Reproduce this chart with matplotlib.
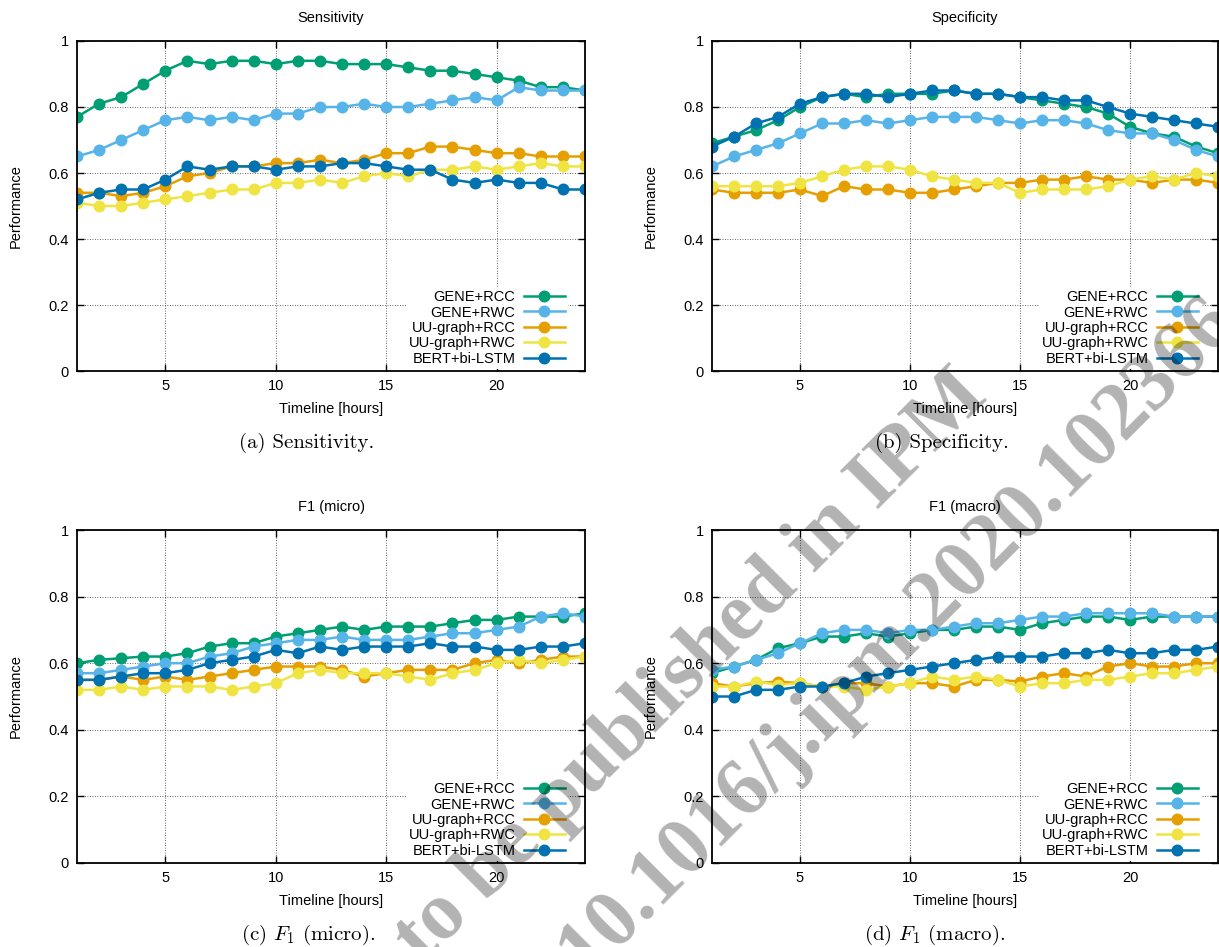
import matplotlib.pyplot as plt

W, H = 1219, 947   # output size in pixels (dpi 100)

hours = list(range(1, 25))
methods = ["GENE+RCC", "GENE+RWC", "UU-graph+RCC", "UU-graph+RWC", "BERT+bi-LSTM"]
colors = ["#009e73", "#56b4e9", "#e69f00", "#f0e442", "#0072b2"]

# (a) sensitivity
sens_gene_rcc = [0.77, 0.81, 0.83, 0.87, 0.91, 0.94, 0.93, 0.94, 0.94, 0.93, 0.94, 0.94,
                 0.93, 0.93, 0.93, 0.92, 0.91, 0.91, 0.90, 0.89, 0.88, 0.86, 0.86, 0.85]
sens_gene_rwc = [0.65, 0.67, 0.70, 0.73, 0.76, 0.77, 0.76, 0.77, 0.76, 0.78, 0.78, 0.80,
                 0.80, 0.81, 0.80, 0.80, 0.81, 0.82, 0.83, 0.82, 0.86, 0.85, 0.85, 0.85]
sens_uu_rcc = [0.54, 0.54, 0.53, 0.54, 0.56, 0.59, 0.60, 0.62, 0.62, 0.63, 0.63, 0.64,
               0.63, 0.64, 0.66, 0.66, 0.68, 0.68, 0.67, 0.66, 0.66, 0.65, 0.65, 0.65]
sens_uu_rwc = [0.51, 0.50, 0.50, 0.51, 0.52, 0.53, 0.54, 0.55, 0.55, 0.57, 0.57, 0.58,
               0.57, 0.59, 0.60, 0.59, 0.61, 0.61, 0.62, 0.61, 0.62, 0.63, 0.62, 0.62]
sens_bert = [0.52, 0.54, 0.55, 0.55, 0.58, 0.62, 0.61, 0.62, 0.62, 0.61, 0.62, 0.62,
             0.63, 0.63, 0.62, 0.61, 0.61, 0.58, 0.57, 0.58, 0.57, 0.57, 0.55, 0.55]

# (b) specificity
spec_gene_rcc = [0.69, 0.71, 0.73, 0.76, 0.80, 0.83, 0.84, 0.83, 0.84, 0.84, 0.84, 0.85,
                 0.84, 0.84, 0.83, 0.82, 0.81, 0.80, 0.78, 0.74, 0.72, 0.71, 0.68, 0.66]
spec_gene_rwc = [0.62, 0.65, 0.67, 0.69, 0.72, 0.75, 0.75, 0.76, 0.75, 0.76, 0.77, 0.77,
                 0.77, 0.76, 0.75, 0.76, 0.76, 0.75, 0.73, 0.72, 0.72, 0.70, 0.67, 0.65]
spec_uu_rcc = [0.55, 0.54, 0.54, 0.54, 0.55, 0.53, 0.56, 0.55, 0.55, 0.54, 0.54, 0.55,
               0.56, 0.57, 0.57, 0.58, 0.58, 0.59, 0.58, 0.58, 0.57, 0.58, 0.58, 0.57]
spec_uu_rwc = [0.56, 0.56, 0.56, 0.56, 0.57, 0.59, 0.61, 0.62, 0.62, 0.61, 0.59, 0.58,
               0.57, 0.57, 0.54, 0.55, 0.55, 0.55, 0.56, 0.58, 0.59, 0.58, 0.60, 0.59]
spec_bert = [0.68, 0.71, 0.75, 0.77, 0.81, 0.83, 0.84, 0.84, 0.83, 0.84, 0.85, 0.85,
             0.84, 0.84, 0.83, 0.83, 0.82, 0.82, 0.80, 0.78, 0.77, 0.76, 0.75, 0.74]

# (c) F1 micro
f1mi_gene_rcc = [0.60, 0.61, 0.615, 0.62, 0.62, 0.63, 0.65, 0.66, 0.66, 0.68, 0.69, 0.70,
                 0.71, 0.70, 0.71, 0.71, 0.71, 0.72, 0.73, 0.73, 0.74, 0.74, 0.74, 0.75]
f1mi_gene_rwc = [0.57, 0.57, 0.58, 0.59, 0.60, 0.60, 0.62, 0.63, 0.65, 0.66, 0.67, 0.67,
                 0.68, 0.67, 0.67, 0.67, 0.68, 0.69, 0.69, 0.70, 0.71, 0.74, 0.75, 0.74]
f1mi_uu_rcc = [0.55, 0.55, 0.56, 0.55, 0.56, 0.55, 0.56, 0.57, 0.58, 0.59, 0.59, 0.59,
               0.58, 0.56, 0.57, 0.58, 0.58, 0.58, 0.60, 0.61, 0.60, 0.61, 0.62, 0.62]
f1mi_uu_rwc = [0.52, 0.52, 0.53, 0.52, 0.53, 0.53, 0.53, 0.52, 0.53, 0.54, 0.57, 0.58,
               0.57, 0.57, 0.57, 0.56, 0.55, 0.57, 0.58, 0.60, 0.61, 0.60, 0.61, 0.62]
f1mi_bert = [0.55, 0.55, 0.56, 0.57, 0.57, 0.58, 0.60, 0.61, 0.62, 0.64, 0.63, 0.65,
             0.64, 0.65, 0.65, 0.65, 0.66, 0.65, 0.65, 0.64, 0.64, 0.65, 0.65, 0.66]

# (d) F1 macro
f1ma_gene_rcc = [0.57, 0.59, 0.61, 0.645, 0.66, 0.68, 0.68, 0.69, 0.68, 0.69, 0.70, 0.70,
                 0.71, 0.71, 0.70, 0.72, 0.73, 0.74, 0.74, 0.73, 0.74, 0.74, 0.74, 0.74]
f1ma_gene_rwc = [0.58, 0.59, 0.61, 0.63, 0.66, 0.69, 0.70, 0.70, 0.69, 0.70, 0.70, 0.71,
                 0.72, 0.72, 0.73, 0.74, 0.74, 0.75, 0.75, 0.75, 0.75, 0.74, 0.74, 0.74]
f1ma_uu_rcc = [0.54, 0.53, 0.54, 0.545, 0.54, 0.53, 0.54, 0.54, 0.53, 0.54, 0.54, 0.53,
               0.55, 0.55, 0.545, 0.56, 0.57, 0.56, 0.59, 0.60, 0.59, 0.59, 0.60, 0.60]
f1ma_uu_rwc = [0.53, 0.53, 0.545, 0.535, 0.54, 0.53, 0.53, 0.52, 0.53, 0.54, 0.56, 0.55,
               0.56, 0.55, 0.53, 0.54, 0.54, 0.55, 0.55, 0.56, 0.57, 0.57, 0.58, 0.59]
f1ma_bert = [0.50, 0.50, 0.52, 0.52, 0.53, 0.53, 0.54, 0.56, 0.57, 0.58, 0.59, 0.60,
             0.61, 0.62, 0.62, 0.62, 0.63, 0.63, 0.64, 0.63, 0.63, 0.64, 0.64, 0.65]

yticks = [0, 0.2, 0.4, 0.6, 0.8, 1]
ytick_labels = ["0", "0.2", "0.4", "0.6", "0.8", "1"]
xticks = [5, 10, 15, 20]


def fig_box(left, top, right, bottom):
    # pixel box (top-left origin) -> figure fraction rect
    return [left / W, 1 - bottom / H, (right - left) / W, (bottom - top) / H]


plt.rcParams['font.family'] = ['Liberation Sans', 'DejaVu Sans']
plt.rcParams['mathtext.fontset'] = 'cm'

fig = plt.figure(figsize=(W / 100, H / 100), dpi=100)

panels = [
    ([sens_gene_rcc, sens_gene_rwc, sens_uu_rcc, sens_uu_rwc, sens_bert],
     "Sensitivity", "(a) Sensitivity.", (77, 41, 585, 371), 307),
    ([spec_gene_rcc, spec_gene_rwc, spec_uu_rcc, spec_uu_rwc, spec_bert],
     "Specificity", "(b) Specificity.", (712, 41, 1218, 371), 942),
    ([f1mi_gene_rcc, f1mi_gene_rwc, f1mi_uu_rcc, f1mi_uu_rwc, f1mi_bert],
     "F1 (micro)", "(c) $F_1$ (micro).", (77, 530, 585, 863), 308),
    ([f1ma_gene_rcc, f1ma_gene_rwc, f1ma_uu_rcc, f1ma_uu_rwc, f1ma_bert],
     "F1 (macro)", "(d) $F_1$ (macro).", (712, 530, 1218, 863), 935),
]

for series, title, caption, box, cap_x in panels:
    left, top, right, bottom = box
    ax = fig.add_axes(fig_box(*box))
    for name, vals, c in zip(methods, series, colors):
        ax.plot(hours, vals, '-o', color=c, lw=1.8, ms=7.6, label=name)

    ax.set_xlim(1, 24)
    ax.set_ylim(0, 1)
    ax.set_xticks(xticks)
    ax.set_yticks(yticks)
    ax.set_yticklabels(ytick_labels)
    ax.grid(True, color='#333333', lw=0.6, ls=(0, (1, 2)))
    ax.tick_params(direction='in', top=True, right=True, length=5, width=1,
                   labelsize=10.5, pad=6)
    for s in ax.spines.values():
        s.set_linewidth(1.3)

    ax.set_xlabel("Timeline [hours]", fontsize=10.5)
    ax.xaxis.set_label_coords(0.5, -38 / (bottom - top))
    ax.xaxis.label.set_va('center')
    ax.set_ylabel("Performance", fontsize=10.5)
    ax.yaxis.set_label_coords(-61 / (right - left), 0.5)
    ax.yaxis.label.set_va('center')

    # title above the frame and caption below (LaTeX-like)
    fig.text((left + right) / 2 / W, 1 - (top - 23) / H, title, fontsize=10.5,
             ha='center', va='center')
    fig.text(cap_x / W, 1 - (bottom + 72) / H, caption, family='cmr10',
             fontsize=15, ha='center', va='center')

    ax.legend(loc='lower right', bbox_to_anchor=(1 - 15 / (right - left), 0.0),
              frameon=True, facecolor='white', edgecolor='none', framealpha=1,
              fancybox=False, markerfirst=False, fontsize=10.5, handlelength=2.8,
              handletextpad=0.6, labelspacing=0.1, borderpad=0.2, borderaxespad=0.15)

# grey watermark stamped over the whole figure (darkens what lies below it)
wm = dict(family='Liberation Serif', weight='bold', fontsize=59, color='black',
          alpha=0.3, rotation=45, rotation_mode='anchor', ha='center', va='center',
          zorder=10)
fig.text(692 / W, 1 - 668 / H, "to be published in IPM", **wm)
fig.text(898 / W, 1 - 635 / H, "10.1016/j.ipm.2020.102366", **wm)

fig.savefig("out.png", dpi=100)
